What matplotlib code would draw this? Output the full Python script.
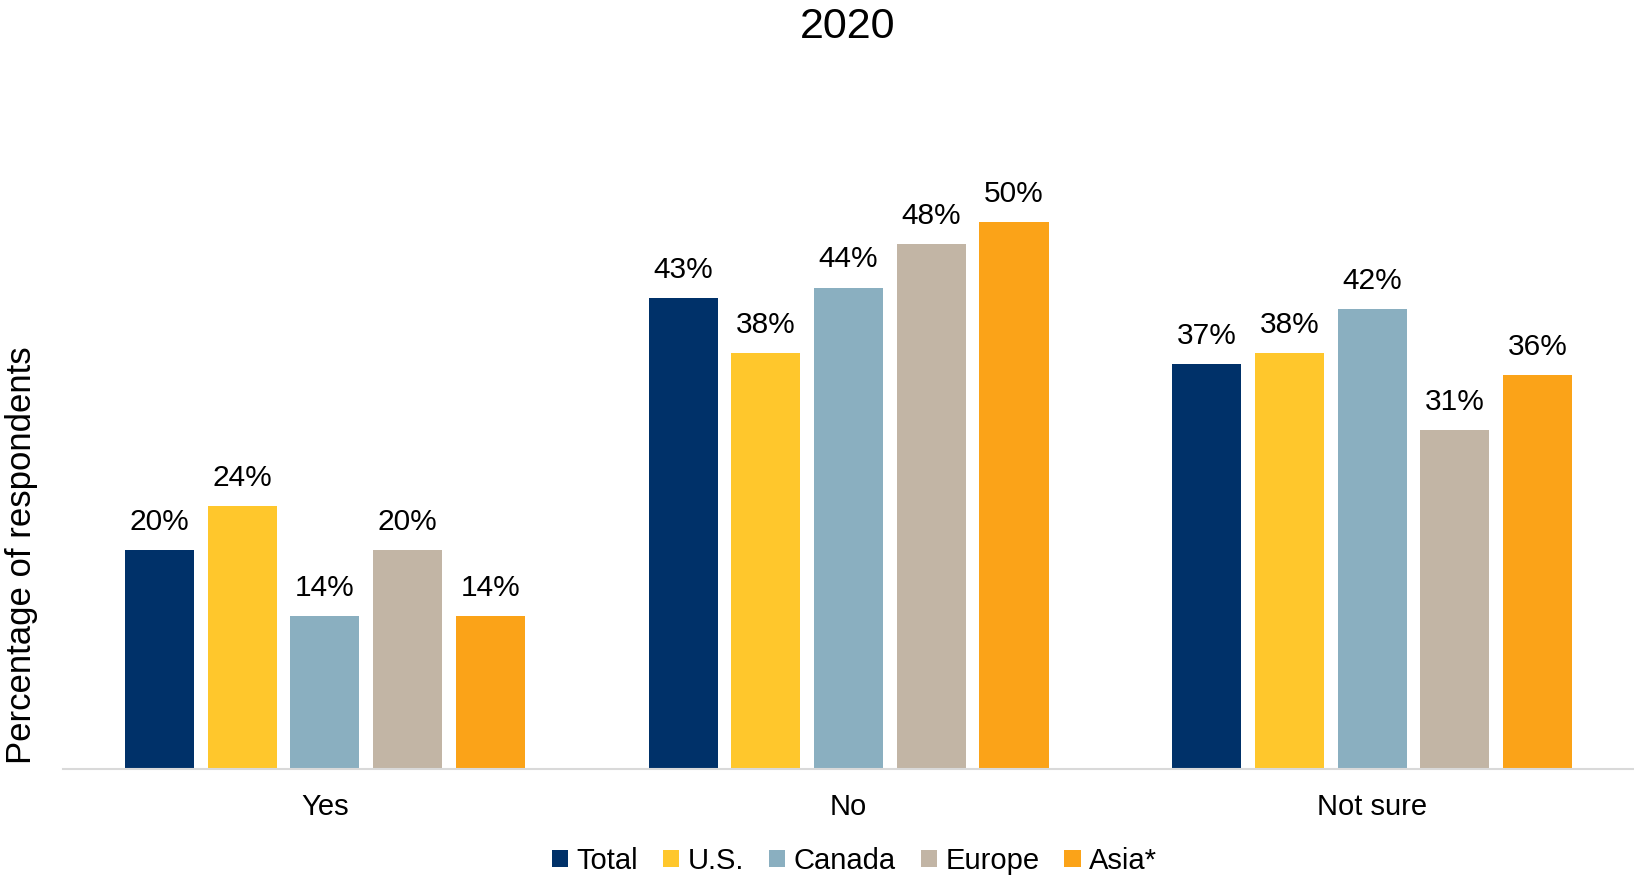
import numpy as np
import matplotlib.pyplot as plt

plt.rcParams['font.family'] = ['Liberation Sans', 'DejaVu Sans']

# Datos
categorias = ['Yes', 'No', 'Not sure']
regiones = ['Total', 'U.S.', 'Canada', 'Europe', 'Asia*']
total = [20, 43, 37]
us = [24, 38, 38]
canada = [14, 44, 42]
europe = [20, 48, 31]
asia = [14, 50, 36]
colores = ['#003169', '#FFC72C', '#8AAFC0', '#C2B5A5', '#FBA318']

series = [total, us, canada, europe, asia]

fig = plt.figure(figsize=(16.34, 8.82), dpi=100)
ax = fig.add_axes([0.0386, 0.128, 0.9614, 0.6825])

x = np.arange(len(categorias))
paso = 0.158
ancho = 0.132
for i, (vals, nombre, color) in enumerate(zip(series, regiones, colores)):
    pos = x + (i - 2) * paso
    barras = ax.bar(pos, vals, width=ancho, color=color, label=nombre)
    for b, v in zip(barras, vals):
        ax.text(b.get_x() + b.get_width() / 2, v + 1.3, f'{v}%',
                ha='center', va='bottom', fontsize=21.5)

ax.set_xlim(-0.5, 2.5)
ax.set_ylim(0, 55)
ax.set_xticks(x)
ax.set_xticklabels(categorias, fontsize=21)
ax.tick_params(axis='x', length=0, pad=17)
ax.set_yticks([])
for lado in ['top', 'right', 'left']:
    ax.spines[lado].set_visible(False)
ax.spines['bottom'].set_color('#D9D9D9')
ax.spines['bottom'].set_linewidth(1.5)

ax.set_ylabel('Percentage of respondents', fontsize=25)
ax.yaxis.set_label_coords(-0.016, 0.355)

fig.suptitle('2020', fontsize=31, x=0.519, y=0.992)

fig.legend(loc='center', bbox_to_anchor=(0.523, 0.024), ncol=5, fontsize=21,
           frameon=False, handlelength=0.55, handleheight=0.55,
           handletextpad=0.3, columnspacing=0.85)

fig.savefig('out.png', dpi=100)
